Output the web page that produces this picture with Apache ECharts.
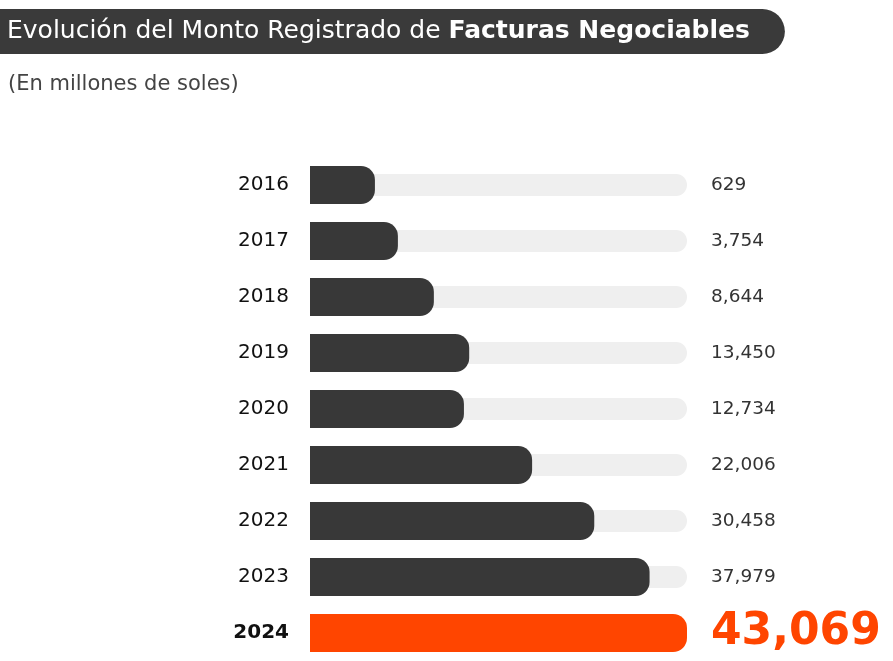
<!DOCTYPE html>
<html>
<head>
    <meta charset="utf-8" />
    <title>Facturas Negociables</title>
    <script type="text/javascript" src="https://cdn.jsdelivr.net/npm/echarts@6/dist/echarts.min.js"></script>
    <style>
        html, body { margin: 0; padding: 0; background: #fff; }
        #main { width: 893px; height: 661px; }
    </style>
</head>
<body>
    <div id="main"></div>
    <script type="text/javascript">
        // datos (millones de soles)
        var anios = ['2016', '2017', '2018', '2019', '2020', '2021', '2022', '2023', '2024'];
        var montos = [629, 3754, 8644, 13450, 12734, 22006, 30458, 37979, 43069];

        var BASE = 8200;          // tramo fijo al inicio de cada barra (estilo infografia)
        var oscuro = '#383838';
        var naranja = '#ff4500';
        var fuente = 'DejaVu Sans';
        var ultimo = anios.length - 1;

        var maximo = BASE + Math.max.apply(null, montos);
        var fmt = function (v) { return v.toLocaleString('en-US'); };
        var color = function (i) { return i === ultimo ? naranja : oscuro; };

        var myChart = echarts.init(document.getElementById('main'));
        var option = {
            backgroundColor: '#fff',
            animation: false,
            textStyle: { fontFamily: fuente },
            title: [{
                text: '{l|Evolución del Monto Registrado de }{b|Facturas Negociables}',
                left: 0,
                top: 7,
                backgroundColor: '#3a3a3a',
                borderRadius: [0, 24, 24, 0],
                padding: [10, 35, 10, 7],
                textStyle: {
                    rich: {
                        l: { fontSize: 25, fontWeight: 'normal', color: '#fff', fontFamily: fuente, lineHeight: 29 },
                        b: { fontSize: 25, fontWeight: 'bold', color: '#fff', fontFamily: fuente, lineHeight: 29 }
                    }
                }
            }, {
                text: '(En millones de soles)',
                left: 8,
                top: 74,
                padding: 0,
                textStyle: { fontSize: 21, fontWeight: 'normal', color: '#444', fontFamily: fuente }
            }],
            grid: { left: 310, right: 206, top: 157, bottom: 0 },
            xAxis: { type: 'value', min: 0, max: maximo, show: false },
            yAxis: [{
                type: 'category',
                data: anios,
                inverse: true,
                axisLine: { show: false },
                axisTick: { show: false },
                axisLabel: {
                    margin: 21,
                    fontSize: 20,
                    color: '#111',
                    fontFamily: fuente,
                    formatter: function (v, i) { return i === ultimo ? '{b|' + v + '}' : v; },
                    rich: { b: { fontSize: 20, fontWeight: 'bold', color: '#111', fontFamily: fuente } }
                }
            }, {
                type: 'category',
                data: anios,
                inverse: true,
                show: false
            }],
            series: [{
                // pista gris de fondo con las etiquetas de valor
                type: 'bar',
                yAxisIndex: 1,
                barWidth: 22,
                z: 1,
                data: anios.map(function () { return maximo; }),
                itemStyle: { color: '#efefef', borderRadius: [0, 11, 11, 0] },
                label: {
                    show: true,
                    position: 'right',
                    distance: 24,
                    fontSize: 18.5,
                    color: '#333',
                    fontFamily: fuente,
                    formatter: function (p) {
                        var t = fmt(montos[p.dataIndex]);
                        return p.dataIndex === ultimo ? '{big|' + t + '}' : t;
                    },
                    rich: { big: { fontSize: 44, fontWeight: 'bold', color: naranja, fontFamily: fuente } }
                }
            }, {
                type: 'bar',
                barWidth: 38,
                z: 2,
                data: montos.map(function (v, i) {
                    return { value: BASE + v, itemStyle: { color: color(i), borderRadius: [0, 14, 14, 0] } };
                })
            }]
        };
        myChart.setOption(option);
    </script>
</body>
</html>
